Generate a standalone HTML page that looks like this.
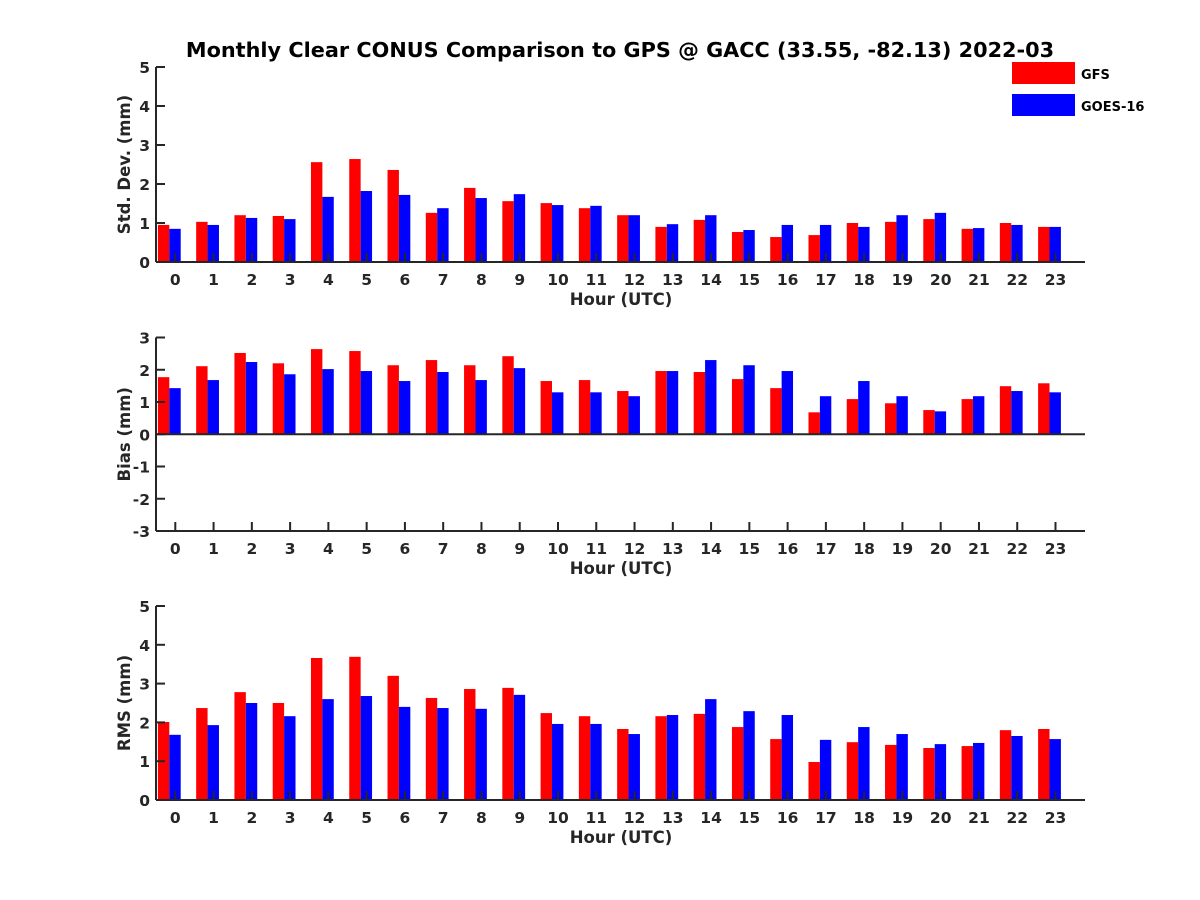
<!DOCTYPE html>
<html><head><meta charset="utf-8"><style>
body{margin:0;background:#fff;}
svg{display:block;font-family:"DejaVu Sans","Liberation Sans",sans-serif;font-weight:bold;}
</style></head><body>
<svg id="chart" width="1200" height="900" viewBox="0 0 1200 900">
<rect width="1200" height="900" fill="#fff"/>
<text x="620" y="57" text-anchor="middle" font-size="20.8" fill="#000">Monthly Clear CONUS Comparison to GPS @ GACC (33.55, -82.13) 2022-03</text>
<g>
<rect x="1012" y="62" width="63" height="22" fill="#ff0000"/>
<text x="1081" y="79" font-size="13">GFS</text>
<rect x="1012" y="94" width="63" height="22" fill="#0000ff"/>
<text x="1081" y="111" font-size="13">GOES-16</text>
</g>
</svg>
<script>
const hours = [0,1,2,3,4,5,6,7,8,9,10,11,12,13,14,15,16,17,18,19,20,21,22,23];
const stdGFS = [0.95,1.03,1.2,1.18,2.56,2.64,2.36,1.26,1.9,1.56,1.51,1.38,1.2,0.9,1.08,0.77,0.64,0.69,1.0,1.03,1.1,0.85,1.0,0.9];
const stdGOES = [0.85,0.95,1.13,1.1,1.67,1.82,1.72,1.38,1.64,1.74,1.46,1.44,1.2,0.97,1.2,0.82,0.95,0.95,0.9,1.2,1.26,0.87,0.95,0.9];
const biasGFS = [1.77,2.11,2.52,2.2,2.64,2.58,2.14,2.3,2.14,2.42,1.65,1.68,1.34,1.96,1.93,1.71,1.43,0.68,1.09,0.96,0.75,1.09,1.49,1.58];
const biasGOES = [1.43,1.68,2.24,1.86,2.02,1.96,1.65,1.93,1.68,2.05,1.3,1.3,1.18,1.96,2.3,2.14,1.96,1.18,1.65,1.18,0.71,1.18,1.34,1.3];
const rmsGFS = [2.01,2.37,2.78,2.5,3.66,3.69,3.2,2.63,2.86,2.89,2.24,2.16,1.83,2.16,2.22,1.88,1.57,0.98,1.49,1.42,1.34,1.39,1.8,1.83];
const rmsGOES = [1.68,1.93,2.5,2.16,2.6,2.68,2.4,2.37,2.35,2.71,1.96,1.96,1.7,2.19,2.6,2.29,2.19,1.55,1.88,1.7,1.44,1.47,1.65,1.57];
const stdTicks = [0,1,2,3,4,5];
const biasTicks = [-3,-2,-1,0,1,2,3];
const rmsTicks = [0,1,2,3,4,5];

const NS="http://www.w3.org/2000/svg";
const svg=document.getElementById('chart');
function mk(tag,attrs,parent){const e=document.createElementNS(NS,tag);for(const k in attrs)e.setAttribute(k,attrs[k]);(parent||svg).appendChild(e);return e;}
const X0=156, X1=1085;
function xTick(h){return 175.3+h*38.27;}
const BW=11.4;

function panel(key,ymin,ymax,yTop,yBot,ticks,ylabel,gfs,goes){
  const g=mk('g',{});
  
  
  const y=v=>yBot-(v-ymin)/(ymax-ymin)*(yBot-yTop);
  const y0=y(0);
  hours.forEach((h,i)=>{
    const xc=xTick(h)-6;
    const v1=gfs[i], v2=goes[i];
    const r=mk('rect',{x:xc-BW,y:Math.min(y(v1),y0),width:BW,height:Math.abs(y0-y(v1)),fill:'#ff0000'},g);
    
    
    const b=mk('rect',{x:xc,y:Math.min(y(v2),y0),width:BW,height:Math.abs(y0-y(v2)),fill:'#0000ff'},g);
    
    
  });
  const ax=mk('g',{stroke:'#262626','stroke-width':2,fill:'none'},g);
  
  
  mk('line',{x1:X0,y1:yTop,x2:X0,y2:yBot},ax);
  mk('line',{x1:X0,y1:yBot,x2:X1,y2:yBot},ax);
  if(ymin<0) mk('line',{x1:X0,y1:y0,x2:X1,y2:y0},ax);
  ticks.forEach(t=>{
    mk('line',{x1:X0,y1:y(t),x2:X0+9,y2:y(t)},ax);
    const tx=mk('text',{x:X0-6,y:y(t)+6,'text-anchor':'end','font-size':15.5,fill:'#262626'},g);
    tx.textContent=t;
    
    
  });
  hours.forEach(h=>{
    mk('line',{x1:xTick(h),y1:yBot,x2:xTick(h),y2:yBot-9},ax);
    const tx=mk('text',{x:xTick(h),y:yBot+23,'text-anchor':'middle','font-size':15.5,fill:'#262626'},g);
    tx.textContent=h;
    
    
  });
  const xl=mk('text',{x:621,y:yBot+43,'text-anchor':'middle','font-size':16.5,fill:'#262626'},g);
  xl.textContent='Hour (UTC)';
  
  
  const yc=(yTop+yBot)/2;
  const yl=mk('text',{x:0,y:0,'text-anchor':'middle','font-size':16.5,fill:'#262626',transform:'translate(130,'+yc+') rotate(-90)'},g);
  yl.textContent=ylabel;
  
  
}
panel('std',0,5,67,262,stdTicks,'Std. Dev. (mm)',stdGFS,stdGOES);
panel('bias',-3,3,337.5,531,biasTicks,'Bias (mm)',biasGFS,biasGOES);
panel('rms',0,5,606,800,rmsTicks,'RMS (mm)',rmsGFS,rmsGOES);
</script>
</body></html>
